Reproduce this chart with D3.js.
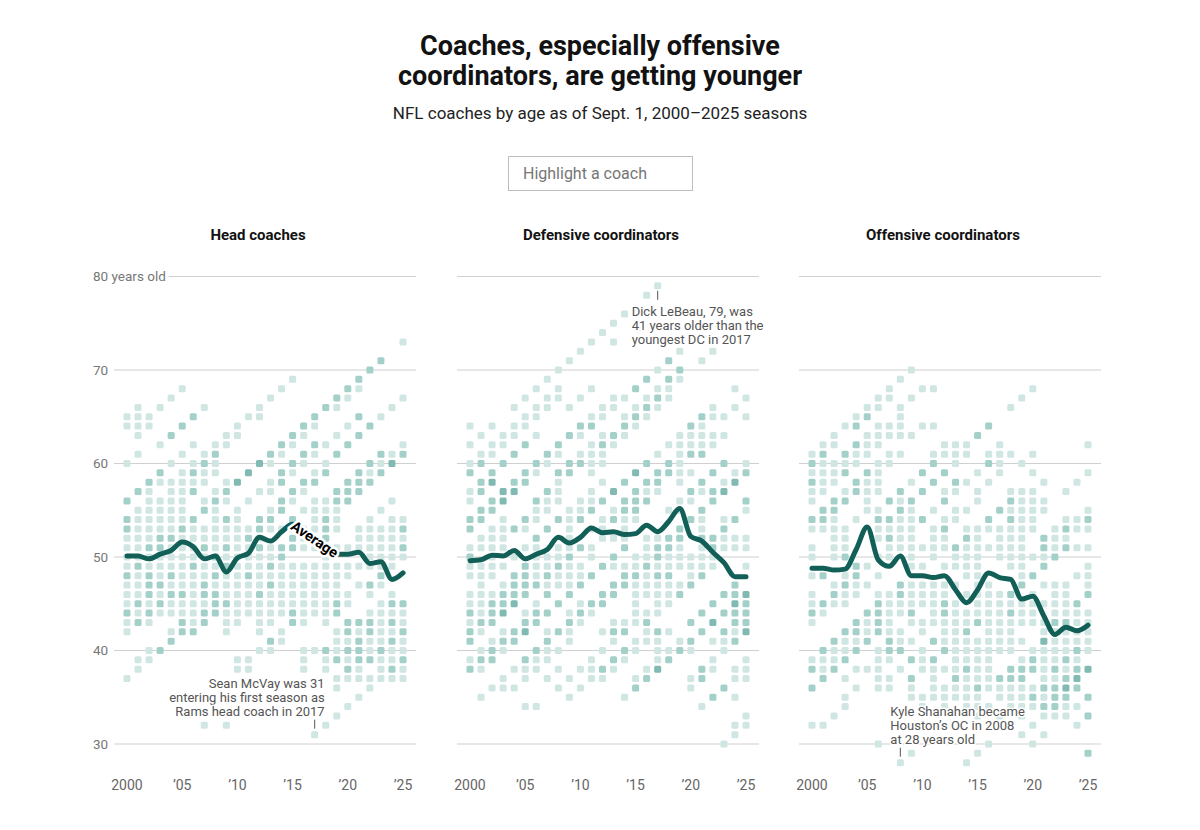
<!DOCTYPE html>
<html lang="en">
<head>
<meta charset="utf-8">
<title>Coaches are getting younger</title>
<script src="https://cdnjs.cloudflare.com/ajax/libs/d3/7.8.5/d3.min.js"></script>
<style>
  body { margin: 0; background: #fff; font-family: Roboto, "Noto Sans", sans-serif; }
  #wrap { position: relative; width: 1200px; height: 830px; }
  #wrap svg { position: absolute; left: 0; top: 0; }
  #search {
    position: absolute; left: 508px; top: 156px; z-index: 2;
    width: 185px; height: 35px; box-sizing: border-box;
    border: 1px solid #bdbdbd; padding: 0 14px;
    font: 16px Roboto, sans-serif; color: #333; outline: none;
  }
  #search::placeholder { color: #767676; }
</style>
</head>
<body>
<div id="wrap">
  <input id="search" type="text" placeholder="Highlight a coach">
</div>
<script>
// seasons and tick labels
var seasons = d3.range(2000, 2026);
var ageTicks = [80, 70, 60, 50, 40, 30];
var yearTicks = [2000, 2005, 2010, 2015, 2020, 2025];
var yearTickLabels = ["2000", "\u201905", "\u201910", "\u201915", "\u201920", "\u201925"];
var panelTitles = ["Head coaches", "Defensive coordinators", "Offensive coordinators"];

// rows: [age, "season offsets (0 = 2000) with xN when N coaches share that age"]
var headRows = [
  [73, "25"], [71, "23x2"], [70, "22x2"], [69, "15 21x2"], [68, "5 14 20x2 21"],
  [67, "4 13 19x2 20 25"], [66, "1 3 7 12 18x2 19 24"],
  [65, "0 1 2 6x2 11 12 17x2 21x2 23"], [64, "0 1 2 5x2 10 16x2 17 20 22x2"],
  [63, "1 4x2 9 10 15x2 16 19 21x2"], [62, "3 6 8 9 14x2 15 17x2 18 20x2 25"],
  [61, "1 5 7 8x2 13x2 14 16x2 17 19x2 23x2 24 25x2"],
  [60, "0 4 6 7x2 8 12x3 13 15x2 16 18 22x2 23 24x3"],
  [59, "3x2 5 6x2 7 8 11x3 14x2 15 17 18x2 21x2 22 23x2"],
  [58, "2x2 3 4 5 6 7 9 10x3 13 14x2 16x2 17x2 20x2 21x2 22x2"],
  [57, "1x2 2 4 5 6x2 8 9x2 12 13 15x2 16 19x2 20x2 21x2"],
  [56, "0x2 2 3 4 5 7 8x2 9 11 14x2 15 17 18 19x2 20x2 24"],
  [55, "1 2 3 4 5 7x2 8 10 13 14x2 16 17 18 19 23"],
  [54, "0x2 1 2 3 4 5 6x2 8 9x2 10 12x2 13x2 15x2 17 18x2 19 22 24 25"],
  [53, "0x2 1 2 3 4 5x2 6 7 8 9 10 11 12x2 13 14 15 16 17 18x2 19 21 22 23 24 25x2"],
  [52, "0 1 2 3x2 4x2 5 6 7 8 9 10 11x2 12 15x2 16 17 18x2 21 22 23 24 25"],
  [51, "0 1 2x2 3x2 4 5 6 7x2 8 9x2 10 11 12x2 13 14x2 15x2 16 17 18 19 20 21 22 23 24 25x2"],
  [50, "0 1 2 3 4 5 6 7 8x2 9 10 11 12 13 14x2 18 22 23 24 25"],
  [49, "0 1x2 2 3 4 5 6x2 7 8 9x2 10 11 12 13x2 14 15 16 17 18 19 20 21 22 23 24"],
  [48, "0x2 1 2x2 3 4x2 5 6 7 8x2 9 10 11x2 12 13 14 15 16 17 18 19 20 23x2"],
  [47, "0 1 2x2 3x2 4 5 6 7x2 8 9 10 11 12 13x2 14 15 16 17 18 19 21 22x2 23"],
  [46, "0 1 2x2 3 4x2 5x2 6 7x2 8x2 9 10 11 12x2 13 14 15 16 17 18 19 20 22 24"],
  [45, "0 1x2 2 3x2 4 5 6 7 8x2 9x2 10 11 12 13 14 15 16 17 18 19x2 20 23 24x2 25x2"],
  [44, "0x2 1 2x2 3 4 5 6 7x2 8x2 9 10 11 12 13 14 15x2 16 17 18 19x2 22 23 24 25"],
  [43, "0 1x2 2 5x2 6 7x2 9 10 12 13 15x2 16 18 20x2 21x2 22x2 23 24x2 25"],
  [42, "0 4 5x2 6x2 9 12 14 19 20x2 21 22x2 23 24 25x2"],
  [41, "4x2 13x2 14 19 20 21x2 22 23 24x2 25"],
  [40, "2 3x2 12 13 16 17 18x2 19 20x2 21x2 22 23x2 24 25"],
  [39, "1 2 10 11 16 18 19x2 20 21x2 22x2 23 24 25x2"],
  [38, "1 10 11 16 18 20x2 21 23 24x2 25"],
  [37, "0 19 20 21 22 23 24 25"], [36, "19 22"], [35, "21"], [34, "20"],
  [33, "19"], [32, "7 9 18"], [31, "17"]
];

var defRows = [
  [79, "17"], [78, "16"], [76, "14"], [75, "13"], [74, "12"], [73, "11 13"],
  [72, "10 19 22"], [71, "9 18x2 21"], [70, "8 17 19x2"], [69, "7 16x2 18x2 19"],
  [68, "6 8 11 15x2 17 18 24"], [67, "5 7 8 10 13 14 16 17x2 18 25"],
  [66, "4 6 7 9 12 13 15 16x2 17 22 24"], [65, "5 6 11 12 14 15x2 16 21x2 22 23 25"],
  [64, "0 2 4 5 10x2 11x2 14x2 15 20x2 21"],
  [63, "1 3 4 6 9x2 10 12 13x2 14 19 20 21 22 23"],
  [62, "0 2 3 5x2 8x2 11 12x2 13 18 19 20 21 22"],
  [61, "1 2 4x2 7x2 8 10 11 12 17 19 20x2 21x2"],
  [60, "0 1x2 3x2 6x2 7 9x2 10x2 11 12 16x2 18x2 19 23x2 25"],
  [59, "0x2 2x2 5x2 6 8x2 9x2 11 15x3 17x2 18x2 19 20 22x2 24 25x2"],
  [58, "1x2 2x3 4x2 5x2 8 12 14x2 16x2 17x2 19 21x2 23 24x3"],
  [57, "0 1x2 3x3 4x3 7x2 8 11 13x3 15x2 16 17 20x2 21 22x2 23x3"],
  [56, "0 2x2 3x3 6x2 7 8 10 11 12x2 14x2 15x2 16x2 19 20 22x2 25x2"],
  [55, "1x2 2x2 6 7 9 10 11x2 13 14x2 15x2 18 19 21x2 25"],
  [54, "0x2 1x2 3 5x2 6 8x2 9 10x2 12 13x2 14 15 20x2 21 23 24x2"],
  [53, "0x2 2 3 4x2 5 7x2 9 11 12 14 19x2 21 23x2"],
  [52, "1 2 3 6x2 9 12 13 14 16 17 18x2 19x2 21x2 22x2 23 24 25"],
  [51, "0 1 2 3 5 6 8 9 10x2 11 14x2 16 17x2 18x2 19 21 22x2 23 24 25"],
  [50, "0x2 2 4 6 7 8 9x2 11 13x2 15 16 17x2 18 19 20 21 22"],
  [49, "0 1 2 3 5x2 6 7 8x2 9 10 12x2 13 14 15 16x2 17 18 19 20 21 22 25"],
  [48, "0 1 2 4x2 5x2 6 7x2 8 9 10 11x2 14x2 15x2 16 17x2 18x2 20 21x2"],
  [47, "1 3 4x2 5x2 6x2 7 8 9 10x2 13x2 14x2 15 16 17 18 19 20x2 24x2"],
  [46, "0 1 2 3x2 4x2 5x2 7x2 9x2 12x2 13x2 15 16 17 18 19x2 23x2 24x2 25x3"],
  [45, "0 1 2x2 3x2 4x3 6 8x2 10 11x2 12x2 15 17 18 22x2 24x3 25x2"],
  [44, "0x2 1 2x2 3x3 5 6x2 7x2 9 10x2 11 15 16 17 21x2 23x2 24x2 25x2"],
  [43, "0 1x2 2x2 5x2 6x2 9x2 10 13 14 15 16x2 20x2 22x3 24x2 25x2"],
  [42, "0x2 1 3 4x2 5x3 7 8x2 9 12 13x2 14x2 16 17x2 18 21x2 23x2 24 25x3"],
  [41, "0x2 2 3x2 4x2 7x2 9 13 15 16 17 19 20x2 22 23 24x2"],
  [40, "1 2x2 3 6x2 7 8 12 14x2 15 17 18 19x2 20 23"],
  [39, "0 1x2 2x2 5x2 6 7 11 13x2 14 17 18x2 22 25"],
  [38, "0x2 1 4 5 6 8 10 11 12x2 13 16 17x3 21x2 22 24 25"],
  [37, "3 5 7 9 11 12 15 16x2 20 21x2 24 25"],
  [36, "2 3 4 8 10 15x2 20 23x2"], [35, "1 9 14 22x2 24"], [34, "5 6 21"],
  [33, "25"], [32, "24 25"], [31, "24"], [30, "23"]
];

var offRows = [
  [70, "9"], [69, "8"], [68, "7 10 11 20"], [67, "6 7 9 19"], [66, "5 6 8 18"],
  [65, "4 5x2 8"], [64, "3 4x2 6 7 8 10 11 16x2"], [63, "2 5 6 7 8 9 15x2"],
  [62, "1 2 4x2 5 6 12 13 14 17 25"],
  [61, "0 1x2 3x2 4 5 7 8 11 12 13 14 16 17 18 20"],
  [60, "0x2 1 2 3 4 6 7 11x2 13 16x2 17 19"],
  [59, "0 1 2 3x2 5x2 6 10x2 12x2 15 17 20 25"],
  [58, "0x2 1 2 4x2 5 6 9 11x2 13x2 14 16 21 24"],
  [57, "0 1 3 4x2 5 6 8x2 10x2 12 13 15 18 19 20 23"],
  [56, "0 2x2 3x2 5 7x2 8 9x2 12x2 15 18x2 19 20 21"],
  [55, "1x2 2x2 5 6 8x2 9 11 13 14 17x2 18 19 20 21 25"],
  [54, "0x2 1x2 2 4 6x2 7x2 8 9 10x2 12 13 16x2 18x2 19 20 23 24 25x2"],
  [53, "0 1 2 3 6 7 8 9 11 12x2 14 15 16 17 18 19 20 22 23x2 24 25"],
  [52, "2 3 6 7x2 8 9 11 12 14x2 15 17 18 19 21x2 22 23"],
  [51, "0 2 3 7 8 9 10 11 12 13x2 14 15 16 17 18 19 21x2 22 23x2 24 25"],
  [50, "0 2 3x2 6 7 9 11 13 14 15 17 18 19 20 21 22x2"],
  [49, "4x2 5 9 10 12 13 14 15 18 19 21x2 25"],
  [48, "0 1x2 3 4x2 6 14 15 19 20x2 24 25"],
  [47, "2 3x2 4 5 8x2 9 10 11 12 13 15 16 19x2 21 22 23 25"],
  [46, "0 2x2 3 4 6 7 8x2 9 10 11 12 14 15 16 17 18x2 20 22 23 25x2"],
  [45, "0 1x2 2 3 6x2 7 8 9 10 11 12x2 13 15 16 17 18 19 20 21 22 23 24x2"],
  [44, "0x2 1 5x2 6x2 7 8 9x2 11 12x2 13 14 15 16 17 18x2 19 20 22 23 24 25"],
  [43, "0 4x2 5 6x2 7 9 10 11 12 13 14 15x2 16 17 18 19 20 21 22x2 23x2 24 25"],
  [42, "3x2 4x2 5 6x2 7 8 10 12 13 14x2 16 17 18 21 22 23 24 25"],
  [41, "2x2 3 4 5x2 7x2 8 9 11x2 12 13 14 15 16 17 18 19 21x3 22 23 24 25"],
  [40, "1x2 2 3 4x2 6 7x2 8x2 10 12x2 13 14 15 16 17 18 20 21 22 23 24x2 25"],
  [39, "0 1 2 3x2 6 7 9x2 10 11x2 13 14 15 16 19 20x2 21 22 23x2 24"],
  [38, "0x2 1 2x2 4 5 6 8 10 11 12 13 14x2 15 16 18x2 19x2 20x2 21 22x2 23 24x2 25x3"],
  [37, "1x2 3 6 7 9x2 11 13x2 14 15 16 17x2 18x2 19x2 21 22 23x2 24x3"],
  [36, "0x2 4 6 7 9 11 12 13 14 15x2 16 17 18 19 20 21x2 22x2 23x3 24x2"],
  [35, "3 9 10 11 12 13 14 15 17 18 19 20x2 21 22x2 23x2 25x2"],
  [34, "3 10 12 14 15 16 18 19 20 21x2 22x2 23 24"],
  [33, "2 15 17 19 21 22 23 25x2"], [32, "0 1 18 20 24"], [31, "19 21"],
  [30, "6 16 20"], [29, "9 15 25x2"], [28, "8 14"]
];

// average age by season, 2000-2025
var headAvg = [50.1, 50.1, 49.8, 50.3, 50.7, 51.6, 51.1, 49.8, 50.1, 48.4, 49.9, 50.4, 52.1,
               51.7, 52.7, 53.5, 52.7, 51.9, 51.1, 50.3, 50.3, 50.5, 49.3, 49.5, 47.6, 48.3];
var defAvg = [49.6, 49.7, 50.2, 50.1, 50.7, 49.8, 50.3, 50.8, 52.1, 51.5, 52.1, 53.1, 52.6,
              52.7, 52.4, 52.5, 53.4, 52.7, 53.8, 55.2, 52.2, 51.7, 50.5, 49.4, 47.9, 47.9];
var offAvg = [48.8, 48.8, 48.6, 48.7, 50.8, 53.2, 49.7, 49.0, 50.1, 48.0, 48.0, 47.8, 48.0,
              46.5, 45.1, 46.5, 48.3, 47.8, 47.6, 45.5, 45.8, 43.7, 41.7, 42.5, 42.1, 42.7];

var notes = [
  {panel: 0, year: 2017, age: 31, anchor: "end", dx: 10, lines: ["Sean McVay was 31", "entering his first season as", "Rams head coach in 2017"]},
  {panel: 1, year: 2017, age: 79, anchor: "start", dx: -26, lines: ["Dick LeBeau, 79, was", "41 years older than the", "youngest DC in 2017"]},
  {panel: 2, year: 2008, age: 28, anchor: "start", dx: -10, lines: ["Kyle Shanahan became", "Houston\u2019s OC in 2008", "at 28 years old"]}
];

function expand(rows) {
  var pts = [];
  rows.forEach(function (r) {
    r[1].split(" ").forEach(function (tok) {
      var p = tok.split("x");
      pts.push({year: 2000 + (+p[0]), age: r[0], n: p[1] ? +p[1] : 1});
    });
  });
  return pts;
}

var panels = [
  {title: panelTitles[0], points: expand(headRows), avg: headAvg, left: 127},
  {title: panelTitles[1], points: expand(defRows), avg: defAvg, left: 470},
  {title: panelTitles[2], points: expand(offRows), avg: offAvg, left: 812}
];

var w = 1200, h = 830;
var svg = d3.select("#wrap").append("svg").attr("width", w).attr("height", h);

var y = d3.scaleLinear().domain([30, 80]).range([744, 276.5]);
var color = d3.scaleOrdinal().domain([1, 2, 3, 4])
  .range(["#d0e6e3", "#a4d0ca", "#80bab2", "#5ea69c"]);

// title block
svg.append("text").attr("x", 600).attr("y", 55).attr("text-anchor", "middle")
  .style("font", "700 27px Roboto, sans-serif").attr("fill", "#121212")
  .text("Coaches, especially offensive");
svg.append("text").attr("x", 600).attr("y", 85).attr("text-anchor", "middle")
  .style("font", "700 27px Roboto, sans-serif").attr("fill", "#121212")
  .text("coordinators, are getting younger");
svg.append("text").attr("x", 600).attr("y", 119).attr("text-anchor", "middle")
  .style("font", "400 17px Roboto, sans-serif").attr("fill", "#222")
  .text("NFL coaches by age as of Sept. 1, 2000\u20132025 seasons");

panels.forEach(function (p, pi) {
  var x = d3.scaleLinear().domain([2000, 2025]).range([p.left, p.left + 276]);
  var g = svg.append("g");

  g.append("text").attr("x", p.left + 131).attr("y", 240).attr("text-anchor", "middle")
    .style("font", "700 15px Roboto, sans-serif").attr("fill", "#121212")
    .text(p.title);

  // gridlines
  g.selectAll(".grid").data(ageTicks).enter().append("line")
    .attr("x1", p.left - 13).attr("x2", p.left + 289)
    .attr("y1", function (d) { return y(d); }).attr("y2", function (d) { return y(d); })
    .attr("stroke", "#d0d0d0").attr("stroke-width", 1.2);

  if (pi === 0) {
    var lab = g.selectAll(".ylab").data(ageTicks).enter().append("g");
    lab.append("text")
      .attr("x", 93).attr("y", function (d) { return y(d) + 4.5; })
      .style("font", "13.5px Roboto, sans-serif").attr("fill", "#777")
      .text(function (d) { return d === 80 ? "80 years old" : d; })
      .each(function () {
        var b = this.getBBox();
        d3.select(this.parentNode).insert("rect", "text")
          .attr("x", b.x).attr("y", b.y).attr("width", b.width + 3).attr("height", b.height)
          .attr("fill", "#fff");
      });
  }

  // x labels
  g.selectAll(".xlab").data(yearTicks).enter().append("text")
    .attr("x", function (d) { return x(d); }).attr("y", 790).attr("text-anchor", "middle")
    .style("font", "14px Roboto, sans-serif").attr("fill", "#666")
    .text(function (d, i) { return yearTickLabels[i]; });

  // coach squares
  g.selectAll(".sq").data(p.points).enter().append("rect")
    .attr("x", function (d) { return x(d.year) - 3.5; })
    .attr("y", function (d) { return y(d.age) - 3.5; })
    .attr("width", 7).attr("height", 7).attr("rx", 1.5)
    .attr("fill", function (d) { return color(Math.min(d.n, 4)); });

  // average line
  var line = d3.line()
    .x(function (d, i) { return x(seasons[i]); })
    .y(function (d) { return y(d); })
    .curve(d3.curveMonotoneX);
  g.append("path").datum(p.avg).attr("d", line)
    .attr("fill", "none").attr("stroke", "#125f58").attr("stroke-width", 5)
    .attr("stroke-linecap", "round").attr("stroke-linejoin", "round");

  if (pi === 0) {
    var x1 = x(2015), y1 = y(p.avg[15]), x2 = x(2019), y2 = y(p.avg[19]);
    var ang = Math.atan2(y2 - y1, x2 - x1) * 180 / Math.PI;
    g.append("text")
      .attr("transform", "translate(" + ((x1 + x2) / 2) + "," + ((y1 + y2) / 2) + ") rotate(" + ang + ")")
      .attr("text-anchor", "middle").attr("dy", "0.35em")
      .style("font", "700 14.5px Roboto, sans-serif")
      .attr("fill", "#000").attr("stroke", "#fff").attr("stroke-width", 5)
      .attr("paint-order", "stroke").attr("stroke-linejoin", "round")
      .text("Average");
  }

  // annotations
  notes.filter(function (n) { return n.panel === pi; }).forEach(function (n) {
    var px = x(n.year), py = y(n.age);
    var above = n.age < 40;
    g.append("line").attr("x1", px).attr("x2", px)
      .attr("y1", above ? py - 15 : py + 5).attr("y2", above ? py - 6 : py + 14)
      .attr("stroke", "#555").attr("stroke-width", 1);
    var t = g.append("text").attr("text-anchor", n.anchor)
      .style("font", "13px Roboto, sans-serif").attr("fill", "#555")
      .attr("stroke", "#fff").attr("stroke-width", 3).attr("paint-order", "stroke")
      .attr("stroke-linejoin", "round");
    n.lines.forEach(function (s, i) {
      var base = above ? py - 47 + i * 14 : py + 30 + i * 14;
      t.append("tspan").attr("x", px + n.dx).attr("y", base).text(s);
    });
  });
});

d3.select("#search").on("input", function () {
  // no coach list in this static version
});
</script>
</body>
</html>
